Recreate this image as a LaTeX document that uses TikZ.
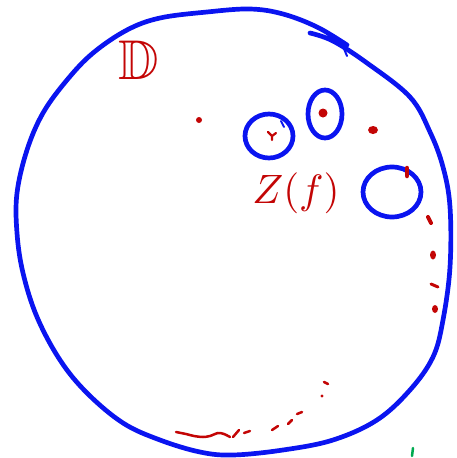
\documentclass[tikz,border=0pt]{standalone}
\usepackage{amssymb}
\definecolor{inkblue}{RGB}{10,20,240}
\definecolor{inkred}{RGB}{195,5,5}
\definecolor{inkgreen}{RGB}{0,170,80}
\tikzset{
  bluestroke/.style={draw=inkblue, line width=4.7pt, line cap=round, line join=round},
  reddash/.style={draw=inkred, line width=3pt, line cap=round},
  reddot/.style={fill=inkred, draw=none},
  redlabel/.style={text=inkred, inner sep=0pt}
}
\begin{document}
\begin{tikzpicture}[x=1pt,y=-1pt]
\useasboundingbox (0,0) rectangle (457,458);
% large region boundary
\draw[bluestroke] plot[smooth, tension=0.6] coordinates {
 (310,33) (333,41) (367,63) (410,97) (430,132) (443,167) (450,207) (450,267)
 (443,320) (433,357) (410,390) (377,420) (333,440) (283,450) (233,455) (200,452)
 (160,440) (123,423) (87,393) (60,360) (37,317) (23,273) (17,233) (17,193)
 (27,150) (43,113) (67,80) (93,53) (127,30) (160,18) (207,12) (250,9) (283,14)
 (317,27) (347,45)};
\draw[bluestroke, line width=2pt] (342,44) -- (347,56);
% small circles
\draw[bluestroke] (269,136) ellipse [x radius=24, y radius=22];
\draw[bluestroke, line width=2pt] (281,121) -- (284,127);
\draw[bluestroke] (325,114) ellipse [x radius=17, y radius=24];
\draw[bluestroke] (392,192) ellipse [x radius=29, y radius=25];
% labels
\node[redlabel, font=\fontsize{56}{60}\selectfont] (D) at (139,60) {$\mathbb{D}$};
\node[redlabel, scale=4.1] (Z) at (296,193) {$Z(f)$};
% red dots
\fill[reddot] (199,120) circle (3);
\draw[reddash, line width=2.2pt] (268,132) -- (272,136) -- (276,133) (272,136) -- (272,140);
\fill[reddot] (323,113) circle (4.5);
\fill[reddot] (373,130) ellipse [x radius=5, y radius=4];
\draw[reddash, line width=4.5pt] (407,168) -- (407,176);
\draw[reddash, line width=4pt] (428,217) -- (431,223);
\fill[reddot] (433,255) ellipse [x radius=3, y radius=4.5];
\draw[reddash, line width=3pt] (431,284) -- (438,287);
\fill[reddot] (435,309) ellipse [x radius=3, y radius=4];
% bottom dashes
\draw[reddash, line width=2.5pt] (324,382) -- (328,384);
\fill[reddot] (322,396) circle (1.6);
\draw[reddash, line width=2.5pt] (297,414) -- (302,412);
\draw[reddash, line width=2.5pt] (288,424) -- (292,420);
\draw[reddash, line width=2.5pt] (272,430) -- (278,426);
\draw[reddash, line width=2.5pt] (244,433) -- (250,431);
\draw[reddash, line width=2.5pt] (233,437) -- (239,430);
\draw[reddash, line width=2.5pt] plot[smooth] coordinates {(176,432) (186,434) (194,436) (203,437) (210,436) (218,433) (224,434) (230,437)};
% green mark
\draw[draw=inkgreen, line width=2.5pt, line cap=round] (413,448) -- (412,456);
\end{tikzpicture}
\end{document}
